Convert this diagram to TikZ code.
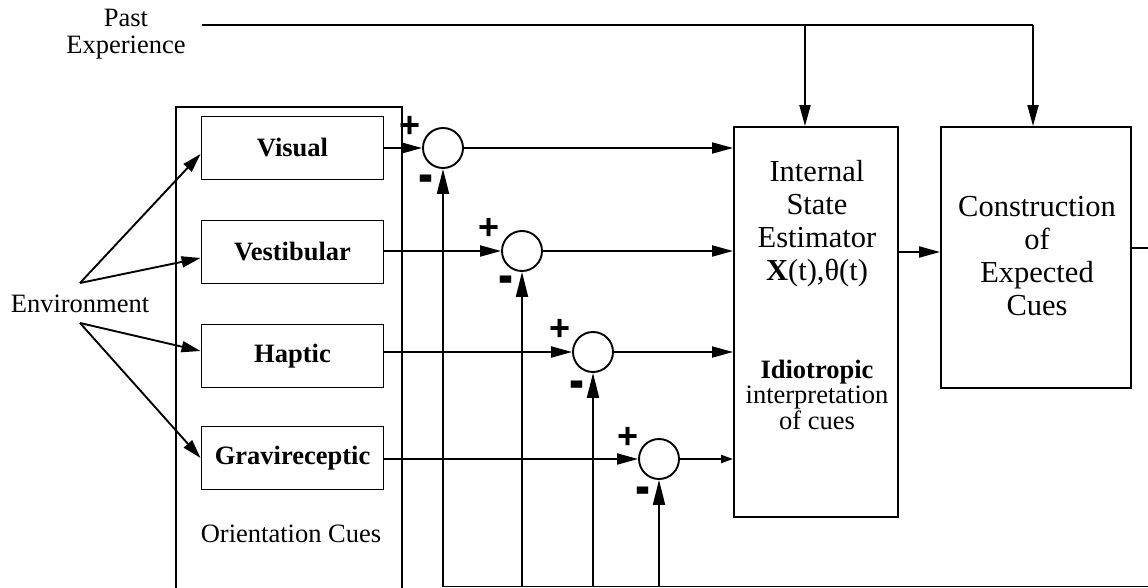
\documentclass[tikz,border=0pt]{standalone}
\usepackage{fontspec}
\setmainfont{Liberation Serif}
\newfontfamily\signfont{Liberation Sans}
\usetikzlibrary{arrows.meta}
\begin{document}
\begin{tikzpicture}[x=1pt,y=-1pt, line width=1.9pt,
  arr/.style={-{Triangle[length=21pt,width=11pt]}},
  sarr/.style={-{Triangle[length=12pt,width=8pt]}},
  farr/.style={-{Triangle[length=25pt,width=12pt]}},
  earr/.style={-{Triangle[length=19pt,width=11pt]}},
  sbox/.style={draw, minimum width=182pt, minimum height=63pt, inner sep=0pt, font=\fontsize{26.5}{30}\selectfont\bfseries},
  sum/.style={draw, circle, minimum size=40pt, inner sep=0pt},
  big/.style={draw, inner sep=0pt},
  sign/.style={font=\signfont\fontsize{36}{36}\selectfont\bfseries, inner sep=0pt},
  lbl/.style={font=\fontsize{26.5}{27}\selectfont, inner sep=0pt, align=center},
  btxt/.style={anchor=north, align=center, inner sep=0pt, font=\fontsize{30.5}{33}\selectfont},
]
\useasboundingbox (0,0) rectangle (1148,588);

% outer box of orientation cues
\draw (176,588) |- (402,107) -- (402,588);

% sensor boxes
\node[sbox] (vis) at (292.5,148) {Visual};
\node[sbox] (ves) at (292.5,252) {Vestibular};
\node[sbox] (hap) at (292.5,356) {Haptic};
\node[sbox] (gra) at (292.5,458) {Gravireceptic};

\node[lbl, anchor=base] (oc) at (291,542) {Orientation Cues};
\node[lbl, anchor=base] (env) at (80,312) {Environment};
\node[lbl, anchor=north] (pe) at (126,8.5) {Past\\Experience};

% summing junctions
\node[sum] (c1) at (443,148) {};
\node[sum] (c2) at (522,251) {};
\node[sum] (c3) at (593,352) {};
\node[sum] (c4) at (659,459) {};

% big blocks
\node[big, minimum width=164pt, minimum height=390pt] (ise) at (816,322) {};
\node[big, minimum width=190pt, minimum height=261pt] (con) at (1036,257.5) {};

\node[btxt] (iset) at (817,159.5) {Internal\\State\\Estimator\\\textbf{X}(t),θ(t)};
\node[anchor=north, align=center, inner sep=0pt, font=\fontsize{26.5}{25.5}\selectfont] (idio) at (817,359) {\textbf{Idiotropic}\\interpretation\\of cues};
\node[btxt] (cont) at (1037,195) {Construction\\of\\Expected\\Cues};

% signs
\node[sign] (p1) at ([shift={(-33,-21)}]c1.center) {+};
\node[sign] (m1) at ([shift={(-17,37)}]c1.center) {\scalebox{1.25}[1.7]{-}};
\node[sign] (p2) at ([shift={(-33,-22)}]c2.center) {+};
\node[sign] (m2) at ([shift={(-16,35)}]c2.center) {\scalebox{1.25}[1.7]{-}};
\node[sign] (p3) at ([shift={(-33,-22)}]c3.center) {+};
\node[sign] (m3) at ([shift={(-16,39)}]c3.center) {\scalebox{1.25}[1.7]{-}};
\node[sign] (p4) at ([shift={(-31,-21)}]c4.center) {+};
\node[sign] (m4) at ([shift={(-16,38)}]c4.center) {\scalebox{1.25}[1.7]{-}};

% sensor -> junction
\draw[arr] (vis.east) -- (c1.west);
\draw[arr] (ves.east |- c2) -- (c2.west);
\draw[arr] (hap.east |- c3) -- (c3.west);
\draw[arr] (gra.east |- c4) -- (c4.west);

% junction -> estimator
\draw[arr] (c1.east) -- (c1 -| ise.west);
\draw[arr] (c2.east) -- (c2 -| ise.west);
\draw[arr] (c3.east) -- (c3 -| ise.west);
\draw[sarr] (c4.east) -- (c4 -| ise.west);

% estimator -> construction
\draw[arr] ([yshift=70pt]ise.east) coordinate (q) -- (q -| con.west);

% construction output and feedback
\coordinate (fbR) at (1150,248);
\coordinate (fbB) at (1150,586.5);
\draw (con.east |- fbR) -- (fbR);
\draw (c1 |- fbB) -- (fbB);
\draw[farr] (c1 |- fbB) -- (c1.south);
\draw[farr] (c2 |- fbB) -- (c2.south);
\draw[farr] (c3 |- fbB) -- (c3.south);
\draw[farr] (c4 |- fbB) -- (c4.south);

% past experience
\coordinate (ps) at (202,25);
\coordinate (pa) at (805,25);
\coordinate (pb) at (1033,25);
\draw (ps) -- (pb);
\draw[arr] (pa) -- (pa |- ise.north);
\draw[arr] (pb) -- (pb |- con.north);

% environment
\coordinate (et) at (80,283);
\coordinate (eb) at (80,323);
\draw[earr] (et) -- ([yshift=-6pt]vis.west);
\draw[earr] (et) -- ([yshift=-6pt]ves.west);
\draw[earr] (eb) -- ([yshift=5pt]hap.west);
\draw[earr] (eb) -- (gra.west);
\end{tikzpicture}
\end{document}
